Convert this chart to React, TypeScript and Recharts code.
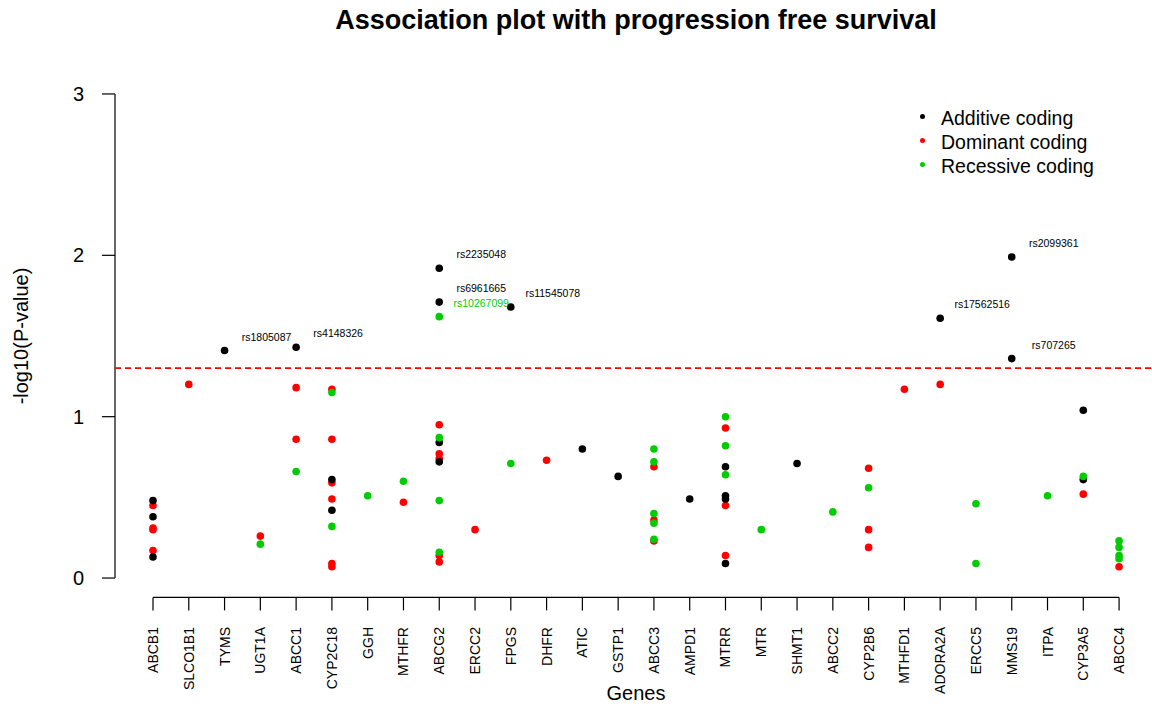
import React from 'react';
import {
   ScatterChart,
   Scatter,
   XAxis,
   YAxis,
   ReferenceLine,
   Label
} from 'recharts';

const FONT = '"Liberation Sans", Arial, sans-serif';

const genes = [
   'ABCB1', 'SLCO1B1', 'TYMS', 'UGT1A', 'ABCC1', 'CYP2C18', 'GGH', 'MTHFR', 'ABCG2', 'ERCC2',
   'FPGS', 'DHFR', 'ATIC', 'GSTP1', 'ABCC3', 'AMPD1', 'MTRR', 'MTR', 'SHMT1', 'ABCC2',
   'CYP2B6', 'MTHFD1', 'ADORA2A', 'ERCC5', 'MMS19', 'ITPA', 'CYP3A5', 'ABCC4'
];

// [gene, -log10(p), optional SNP label]
type Row = [string, number, string?];

const additive: Row[] = [
   ['ABCB1', 0.48], ['ABCB1', 0.38], ['ABCB1', 0.13],
   ['TYMS', 1.41, 'rs1805087'],
   ['ABCC1', 1.43, 'rs4148326'],
   ['CYP2C18', 0.61], ['CYP2C18', 0.42],
   ['ABCG2', 1.92, 'rs2235048'], ['ABCG2', 1.71, 'rs6961665'], ['ABCG2', 0.84], ['ABCG2', 0.72],
   ['FPGS', 1.68, 'rs11545078'],
   ['ATIC', 0.80],
   ['GSTP1', 0.63],
   ['AMPD1', 0.49],
   ['MTRR', 0.69], ['MTRR', 0.51], ['MTRR', 0.49], ['MTRR', 0.09],
   ['SHMT1', 0.71],
   ['ADORA2A', 1.61, 'rs17562516'],
   ['MMS19', 1.99, 'rs2099361'], ['MMS19', 1.36, 'rs707265'],
   ['CYP3A5', 1.04], ['CYP3A5', 0.61]
];

const dominant: Row[] = [
   ['ABCB1', 0.45], ['ABCB1', 0.31], ['ABCB1', 0.30], ['ABCB1', 0.17],
   ['SLCO1B1', 1.20],
   ['UGT1A', 0.26],
   ['ABCC1', 1.18], ['ABCC1', 0.86],
   ['CYP2C18', 1.17], ['CYP2C18', 0.86], ['CYP2C18', 0.59], ['CYP2C18', 0.49], ['CYP2C18', 0.09], ['CYP2C18', 0.07],
   ['MTHFR', 0.47],
   ['ABCG2', 0.95], ['ABCG2', 0.77], ['ABCG2', 0.74], ['ABCG2', 0.14], ['ABCG2', 0.10],
   ['ERCC2', 0.30],
   ['DHFR', 0.73],
   ['ABCC3', 0.69], ['ABCC3', 0.36], ['ABCC3', 0.23],
   ['MTRR', 0.93], ['MTRR', 0.45], ['MTRR', 0.14],
   ['CYP2B6', 0.68], ['CYP2B6', 0.30], ['CYP2B6', 0.19],
   ['MTHFD1', 1.17],
   ['ADORA2A', 1.20],
   ['CYP3A5', 0.52],
   ['ABCC4', 0.07]
];

const recessive: Row[] = [
   ['UGT1A', 0.21],
   ['ABCC1', 0.66],
   ['CYP2C18', 1.15], ['CYP2C18', 0.32],
   ['GGH', 0.51],
   ['MTHFR', 0.60],
   ['ABCG2', 1.62, 'rs10267099'], ['ABCG2', 0.87], ['ABCG2', 0.48], ['ABCG2', 0.16],
   ['FPGS', 0.71],
   ['ABCC3', 0.80], ['ABCC3', 0.72], ['ABCC3', 0.40], ['ABCC3', 0.34], ['ABCC3', 0.24],
   ['MTRR', 1.00], ['MTRR', 0.82], ['MTRR', 0.64],
   ['MTR', 0.30],
   ['ABCC2', 0.41],
   ['CYP2B6', 0.56],
   ['ERCC5', 0.46], ['ERCC5', 0.09],
   ['ITPA', 0.51],
   ['CYP3A5', 0.63],
   ['ABCC4', 0.23], ['ABCC4', 0.19], ['ABCC4', 0.14], ['ABCC4', 0.12]
];

const legendItems = [
   { name: 'Additive coding', color: '#000000' },
   { name: 'Dominant coding', color: '#ff0000' },
   { name: 'Recessive coding', color: '#00cd00' }
];

const threshold = -Math.log10(0.05);

const toPoints = (rows: Row[]) =>
   rows.map(([gene, p, label]) => ({ x: genes.indexOf(gene), y: p, label }));

// R style plot region (axis range extended by 4%)
const X_MIN = -1.062;
const X_MAX = 27.92;
const Y_MIN = -0.12;
const Y_MAX = 3.12;

const dot = (color: string) => (props: any) => {
   const { cx, cy, payload } = props;
   return (
      <g>
         <circle cx={cx} cy={cy} r={3.8} fill={color} />
         {payload && payload.label ? (
            <text
               x={cx + 42}
               y={cy - 14}
               textAnchor='middle'
               dominantBaseline='central'
               fontSize={10.5}
               fill={color}
               fontFamily={FONT}
            >
               {payload.label}
            </text>
         ) : null}
      </g>
   );
};

const GeneTick = (props: any) => {
   const { x, y, payload } = props;
   return (
      <text
         x={x}
         y={y}
         transform={`rotate(-90 ${x} ${y})`}
         textAnchor='end'
         dominantBaseline='central'
         fontSize={14}
         fill='#000'
         fontFamily={FONT}
      >
         {genes[payload.value]}
      </text>
   );
};

const App: React.FC = () => {
   return (
      <div style={{ position: 'absolute', left: 0, top: 0, width: 1152, height: 706, background: '#fff', fontFamily: FONT }}>
         <div
            style={{
               position: 'absolute',
               left: 0,
               width: 1272,
               top: 4,
               lineHeight: '32px',
               textAlign: 'center',
               fontSize: 27,
               fontWeight: 'bold',
               color: '#000'
            }}
         >
            Association plot with progression free survival
         </div>
         <ScatterChart
            width={1152}
            height={706}
            margin={{ top: 74.6, right: 0, bottom: 0, left: 0 }}
            style={{ fontFamily: FONT }}
         >
            <XAxis
               type='number'
               dataKey='x'
               domain={[X_MIN, X_MAX]}
               allowDataOverflow
               ticks={genes.map((_, i) => i)}
               interval={0}
               axisLine={false}
               tickLine={{ stroke: '#000', strokeWidth: 1.2 }}
               tickSize={13}
               tickMargin={16.6}
               height={108.6}
               tick={<GeneTick />}
            >
               <Label
                  content={() => (
                     <text x={636} y={693} textAnchor='middle' dominantBaseline='central' fontSize={20} fill='#000' fontFamily={FONT}>
                        Genes
                     </text>
                  )}
               />
            </XAxis>
            <YAxis
               type='number'
               dataKey='y'
               domain={[Y_MIN, Y_MAX]}
               allowDataOverflow
               ticks={[0, 1, 2, 3]}
               axisLine={false}
               tickLine={{ stroke: '#000', strokeWidth: 1.2 }}
               tickSize={13}
               tickMargin={18}
               width={115}
               tick={{ fill: '#000', fontSize: 20, fontFamily: FONT }}
            >
               <Label
                  content={() => (
                     <text
                        x={21}
                        y={336}
                        transform='rotate(-90 21 336)'
                        textAnchor='middle'
                        dominantBaseline='central'
                        fontSize={20}
                        fill='#000'
                        fontFamily={FONT}
                     >
                        -log10(P-value)
                     </text>
                  )}
               />
            </YAxis>
            <ReferenceLine
               segment={[{ x: X_MIN, y: 0 }, { x: X_MIN, y: 3 }]}
               stroke='#000'
               strokeWidth={1.2}
               ifOverflow='visible'
            />
            <ReferenceLine
               segment={[{ x: 0, y: Y_MIN }, { x: genes.length - 1, y: Y_MIN }]}
               stroke='#000'
               strokeWidth={1.2}
               ifOverflow='visible'
            />
            <ReferenceLine y={threshold} stroke='#ff0000' strokeWidth={1.6} strokeDasharray='6 4' />
            <Scatter
               name='Dominant coding'
               data={toPoints(dominant)}
               fill='#ff0000'
               shape={dot('#ff0000')}
               isAnimationActive={false}
            />
            <Scatter
               name='Additive coding'
               data={toPoints(additive)}
               fill='#000000'
               shape={dot('#000000')}
               isAnimationActive={false}
            />
            <Scatter
               name='Recessive coding'
               data={toPoints(recessive)}
               fill='#00cd00'
               shape={dot('#00cd00')}
               isAnimationActive={false}
            />
         </ScatterChart>
         <div style={{ position: 'absolute', left: 915, top: 106, fontSize: 19.5, color: '#000' }}>
            {legendItems.map((item) => (
               <div key={item.name} style={{ display: 'flex', alignItems: 'center', height: 24 }}>
                  <span
                     style={{
                        display: 'inline-block',
                        width: 5,
                        height: 5,
                        borderRadius: '50%',
                        background: item.color,
                        marginLeft: 5,
                        marginRight: 16,
                        marginTop: -4
                     }}
                  />
                  <span>{item.name}</span>
               </div>
            ))}
         </div>
      </div>
   );
};

export default App;
